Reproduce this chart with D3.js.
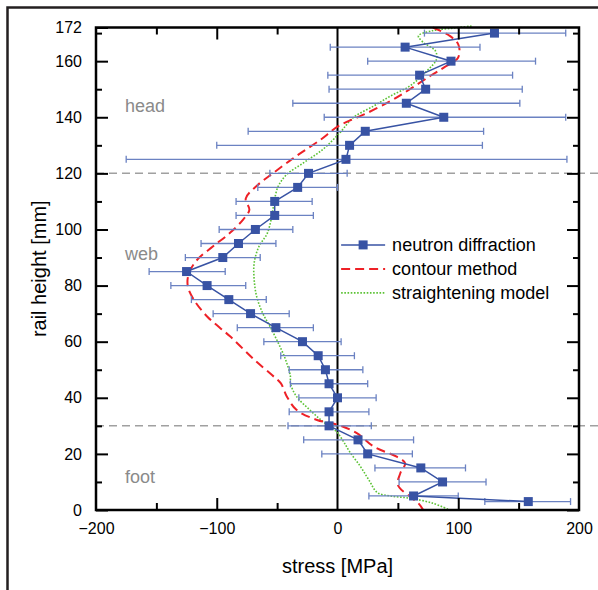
<!DOCTYPE html>
<html>
<head>
<meta charset="utf-8">
<script src="https://cdn.jsdelivr.net/npm/d3@7/dist/d3.min.js"></script>
<style>
body { margin: 0; background: #fff; }
svg { display: block; font-family: "Liberation Sans", Arial, sans-serif; }
</style>
</head>
<body>
<div class="canvas"></div>
<script>
// neutron diffraction points (rail height in mm, stress in MPa, error bar ends)
const heights = [170,165,160,155,150,145,140,135,130,125,120,115,110,105,100,95,90,85,80,75,70,65,60,55,50,45,40,35,30,25,20,15,10,5,3];
const stress  = [130,56,94,68,73,57,88,23,10,7,-24,-33,-52,-52,-68,-82,-95,-125,-108,-90,-72,-51,-29,-16,-10,-7,0,-7,-7,17,25,69,87,63,158];
const errLow  = [72,-6,25,-8,-7,-37,-11,-74,-100,-175,-56,-66,-84,-84,-98,-113,-126,-156,-138,-121,-103,-83,-61,-47,-40,-39,-32,-40,-41,-28,-13,31,51,26,122];
const errHigh = [189,118,164,145,153,151,189,121,120,190,8,0,-21,-20,-37,-51,-64,-93,-76,-59,-40,-20,3,14,21,25,32,26,28,63,62,106,123,100,193];

// contour method curve
const contourH = [172,169,166,163,160.7,157.7,154.8,150,145.8,141,136.9,132,126.2,120.2,115.5,111,107,103.6,98.8,94,89.3,84.5,79.8,75,69,61.9,53.6,48,45.2,40.5,35.7,32.1,30.4,27.4,22.6,19,16.7,13.1,8.9,4.8,2.4,0];
const contourS = [79,93,100,101,99,88,77,60,44,22,1,-14,-34,-53,-67,-76,-73,-78,-89,-103,-116,-123,-124,-119,-108,-89,-69,-54,-47,-42,-34,-17,0,16,30,49,56,52,50,60,67,71];

// straightening model curve
const straightH = [172.5,171.8,170.8,169,166.7,163.7,160.7,156.5,151.2,147.6,144,139.9,134.5,128.6,123.8,119.6,115.5,111,108.3,98.8,94,88.1,82.1,76.2,70.2,65.5,59.5,53.6,47.6,45.2,40.5,35.7,31.5,28,24.4,20.8,15.5,10.7,6.2,5,4.2,2.4,0];
const straightS = [111,96,78,67,71,81,82,74,60,44,30,13,2,-12,-28,-42,-49,-52,-53,-58,-65,-69,-69,-67,-62,-56,-49,-43,-39,-39,-34,-23,-12,-1,5,10,19,26,33,44,60,79,93];

const yTicks = [0,20,40,60,80,100,120,140,160,172];
const yMinor = [10,30,50,70,90,110,130,150,170];
const xTicks = [-200,-100,0,100,200];
const xMajor = [-100,100];
const xMinor = [-150,-50,50,150];
const regionLines = [120, 30];
const regions = [["head",142],["web",89],["foot",9.6]];
const legendNames = ["neutron diffraction","contour method","straightening model"];

const margin = {top: 27.5, right: 19, bottom: 80, left: 96};
const W = 598, H = 590;
const graphWidth = W - margin.left - margin.right;
const graphHeight = H - margin.top - margin.bottom;

const blue = "#3853a4", blueLight = "#6b82c2", red = "#ee2127", green = "#5cc235";

const svg = d3.select('.canvas').append('svg')
    .attr('width', W).attr('height', H);

// outer frame (top and left only)
svg.append('path').attr('d', 'M598,7.5H7.5V590')
    .attr('fill', 'none').attr('stroke', '#231f20').attr('stroke-width', 2.5);

const graph = svg.append('g')
    .attr('transform', `translate(${margin.left}, ${margin.top})`);

const x = d3.scaleLinear().domain([-200, 200]).range([0, graphWidth]);
const y = d3.scaleLinear().domain([0, 172]).range([graphHeight, 0]);

graph.append('clipPath').attr('id', 'clip')
  .append('rect').attr('x', 0).attr('y', -3).attr('width', graphWidth).attr('height', graphHeight + 3);

// dashed region boundaries
graph.selectAll('.region-line').data(regionLines).enter().append('line')
    .attr('x1', 0).attr('x2', W - margin.left)
    .attr('y1', d => y(d)).attr('y2', d => y(d))
    .attr('stroke', '#a0a0a0').attr('stroke-width', 1.5).attr('stroke-dasharray', '8,5');

// zero line
graph.append('line').attr('x1', x(0)).attr('x2', x(0)).attr('y1', 0).attr('y2', graphHeight)
    .attr('stroke', '#000').attr('stroke-width', 2);

// region labels
graph.selectAll('.region').data(regions).enter().append('text')
    .attr('x', 29).attr('y', d => y(d[1]))
    .attr('fill', '#8a8a8a').attr('font-size', 18).text(d => d[0]);

// curves
const line = d3.line().x(d => x(d[1])).y(d => y(d[0])).curve(d3.curveCatmullRom.alpha(0.5));
graph.append('path').datum(d3.zip(straightH, straightS))
    .attr('d', line).attr('fill', 'none').attr('stroke', green)
    .attr('stroke-width', 1.6).attr('stroke-dasharray', '1.6,1.6');
graph.append('path').datum(d3.zip(contourH, contourS)).attr('clip-path', 'url(#clip)')
    .attr('d', line).attr('fill', 'none').attr('stroke', red)
    .attr('stroke-width', 2).attr('stroke-dasharray', '9,5');

// error bars
const pts = heights.map((h, i) => ({h, s: stress[i], lo: errLow[i], hi: errHigh[i]}));
const eb = graph.append('g').attr('stroke', blueLight).attr('stroke-width', 1.3);
eb.selectAll('.eb').data(pts).enter().append('line')
    .attr('x1', d => x(d.lo)).attr('x2', d => x(d.hi))
    .attr('y1', d => y(d.h)).attr('y2', d => y(d.h));
eb.selectAll('.capl').data(pts).enter().append('line')
    .attr('x1', d => x(d.lo)).attr('x2', d => x(d.lo))
    .attr('y1', d => y(d.h) - 3.5).attr('y2', d => y(d.h) + 3.5);
eb.selectAll('.caph').data(pts).enter().append('line')
    .attr('x1', d => x(d.hi)).attr('x2', d => x(d.hi))
    .attr('y1', d => y(d.h) - 3.5).attr('y2', d => y(d.h) + 3.5);

// neutron line and markers
graph.append('path').datum(pts)
    .attr('d', d3.line().x(d => x(d.s)).y(d => y(d.h)))
    .attr('fill', 'none').attr('stroke', blue).attr('stroke-width', 1.5);
graph.selectAll('.pt').data(pts).enter().append('rect')
    .attr('x', d => x(d.s) - 4.5).attr('y', d => y(d.h) - 4.5)
    .attr('width', 9).attr('height', 9).attr('fill', blue);

// axes, ticks pointing inwards
function styleAxis(g) {
  g.select('.domain').remove();
  g.selectAll('.tick line').attr('stroke', '#000').attr('stroke-width', 2);
  g.selectAll('.tick text').attr('fill', '#000').attr('font-size', 16)
    .attr('font-family', '"Liberation Sans", Arial, sans-serif');
}
graph.append('g').call(d3.axisLeft(y).tickValues(yTicks).tickSize(-12).tickPadding(14)).call(styleAxis);
graph.append('g').call(d3.axisLeft(y).tickValues(yMinor).tickSize(-6).tickFormat('')).call(styleAxis);
graph.append('g').attr('transform', `translate(${graphWidth},0)`)
    .call(d3.axisRight(y).tickValues(yTicks.slice(0, -1)).tickSize(-12).tickFormat('')).call(styleAxis);
graph.append('g').attr('transform', `translate(${graphWidth},0)`)
    .call(d3.axisRight(y).tickValues(yMinor).tickSize(-6).tickFormat('')).call(styleAxis);
graph.append('g').attr('transform', `translate(0,${graphHeight})`)
    .call(d3.axisBottom(x).tickValues(xTicks).tickSize(0).tickPadding(13)).call(styleAxis);
graph.append('g').attr('transform', `translate(0,${graphHeight})`)
    .call(d3.axisBottom(x).tickValues(xMajor).tickSize(-12).tickFormat('')).call(styleAxis);
graph.append('g').attr('transform', `translate(0,${graphHeight})`)
    .call(d3.axisBottom(x).tickValues(xMinor).tickSize(-7).tickFormat('')).call(styleAxis);
graph.append('g').call(d3.axisTop(x).tickValues(xMajor).tickSize(-12).tickFormat('')).call(styleAxis);
graph.append('g').call(d3.axisTop(x).tickValues(xMinor).tickSize(-7).tickFormat('')).call(styleAxis);

// frame
graph.append('rect').attr('width', graphWidth).attr('height', graphHeight)
    .attr('fill', 'none').attr('stroke', '#000').attr('stroke-width', 2.5);

// axis titles
svg.append('text').attr('x', margin.left + x(0)).attr('y', 573)
    .attr('text-anchor', 'middle').attr('font-size', 20).text('stress [MPa]');
svg.append('text').attr('transform', `translate(46, ${margin.top + graphHeight / 2}) rotate(-90)`)
    .attr('text-anchor', 'middle').attr('font-size', 20).text('rail height [mm]');

// legend
const legend = graph.append('g').attr('transform', `translate(${x(3)}, ${y(94.5)})`);
const rows = legend.selectAll('g').data(legendNames).enter().append('g')
    .attr('transform', (d, i) => `translate(0, ${i * 24})`);
rows.append('line').attr('x1', 0).attr('x2', 44).attr('y1', 0).attr('y2', 0)
    .attr('stroke', (d, i) => [blue, red, green][i])
    .attr('stroke-width', (d, i) => [1.5, 2, 1.6][i])
    .attr('stroke-dasharray', (d, i) => [null, '9,5', '1.6,1.6'][i]);
legend.append('rect').attr('x', 17.5).attr('y', -4.5).attr('width', 9).attr('height', 9).attr('fill', blue);
rows.append('text').attr('x', 51).attr('y', 6).attr('font-size', 18).text(d => d);
</script>
</body>
</html>
